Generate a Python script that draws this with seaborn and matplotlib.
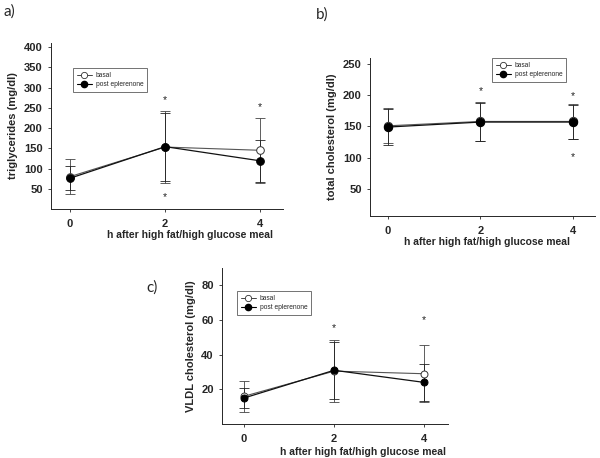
import numpy as np
import pandas as pd
import matplotlib
matplotlib.use("Agg")
import matplotlib.pyplot as plt
import seaborn as sns
from matplotlib.lines import Line2D

# time points (h after meal)
hours = [0, 2, 4]
groups = ["basal", "post eplerenone"]

# a) triglycerides
tg_basal = [80, 153, 145]
tg_basal_err = [44, 90, 80]
tg_post = [76, 154, 119]
tg_post_err = [30, 84, 52]
tg_star_x = [2, 2, 4]
tg_star_y = [269, 30, 252]

# b) total cholesterol
tc_basal = [151, 158, 158]
tc_basal_err = [28, 31, 28]
tc_post = [149, 157, 157]
tc_post_err = [29, 30, 28]
tc_star_x = [2, 4, 4]
tc_star_y = [207, 198, 101]

# c) VLDL cholesterol
vl_basal = [16, 30.5, 29]
vl_basal_err = [9, 18, 16.5]
vl_post = [15, 31, 24]
vl_post_err = [6, 16.5, 10.5]
vl_star_x = [2, 4]
vl_star_y = [55.5, 60]

xlabel = "h after high fat/high glucose meal"

sns.set_style("ticks")
plt.rcParams["font.family"] = ["Liberation Sans", "DejaVu Sans"]

fig = plt.figure(figsize=(6, 4.58), dpi=100)


def panel(rect, basal, basal_err, post, post_err, star_x, star_y,
          ylabel, ylim, xlim, yticks, legend_box, msize):
    ax = fig.add_axes(rect)
    df = pd.DataFrame({
        "h": hours * 2,
        "value": basal + post,
        "group": [groups[0]] * 3 + [groups[1]] * 3,
    })
    # error bars first, under the markers
    ax.errorbar(hours, basal, yerr=basal_err, fmt="none", ecolor="#444444",
                elinewidth=0.6, capsize=3.5, capthick=0.6, zorder=1)
    ax.errorbar(hours, post, yerr=post_err, fmt="none", ecolor="#222222",
                elinewidth=0.6, capsize=3.5, capthick=0.6, zorder=1)
    sns.lineplot(data=df[df.group == groups[0]], x="h", y="value", ax=ax,
                 color="#555555", lw=0.8, marker="o", markersize=msize,
                 markerfacecolor="white", markeredgecolor="#333333",
                 markeredgewidth=0.7, legend=False, zorder=3)
    sns.lineplot(data=df[df.group == groups[1]], x="h", y="value", ax=ax,
                 color="#111111", lw=0.9, marker="o", markersize=msize,
                 markerfacecolor="black", markeredgecolor="black",
                 legend=False, zorder=4)
    for sx, sy in zip(star_x, star_y):
        ax.text(sx, sy, "*", ha="center", va="center", fontsize=7.5,
                color="#222222")
    ax.set_xlim(xlim)
    ax.set_ylim(ylim)
    ax.set_xticks(hours)
    ax.set_yticks(yticks)
    ax.set_xlabel("")
    ax.set_ylabel(ylabel, fontsize=8, fontweight="bold", labelpad=4)
    for lab in ax.get_xticklabels() + ax.get_yticklabels():
        lab.set_fontweight("bold")
    ax.tick_params(labelsize=8, length=2.5, width=0.6)
    ax.tick_params(axis="x", pad=5)
    ax.tick_params(axis="y", pad=3.5)
    sns.despine(ax=ax)
    for s in ["left", "bottom"]:
        ax.spines[s].set_linewidth(0.7)
    handles = [
        Line2D([], [], color="#444444", lw=0.7, marker="o", markersize=4.5,
               markerfacecolor="white", markeredgecolor="#333333",
               markeredgewidth=0.6),
        Line2D([], [], color="black", lw=0.8, marker="o", markersize=4.5,
               markerfacecolor="black"),
    ]
    leg = ax.legend(handles, groups, loc="upper left",
                    bbox_to_anchor=legend_box, bbox_transform=fig.transFigure,
                    fontsize=4.8, frameon=True, fancybox=False,
                    borderpad=0.6, handlelength=2.2, handletextpad=0.6,
                    labelspacing=0.3, borderaxespad=0)
    leg.get_frame().set_edgecolor("#333333")
    leg.get_frame().set_linewidth(0.6)
    return ax


panel([51 / 600, 1 - 209 / 458, 232 / 600, 166 / 458],
      tg_basal, tg_basal_err, tg_post, tg_post_err, tg_star_x, tg_star_y,
      "triglycerides (mg/dl)", (0, 410), (-0.4, 4.48),
      [50, 100, 150, 200, 250, 300, 350, 400],
      (73 / 600, 1 - 68 / 458), 5.5)

panel([370 / 600, 1 - 216 / 458, 225 / 600, 158 / 458],
      tc_basal, tc_basal_err, tc_post, tc_post_err, tc_star_x, tc_star_y,
      "total cholesterol (mg/dl)", (6, 260), (-0.39, 4.48),
      [50, 100, 150, 200, 250],
      (492 / 600, 1 - 58 / 458), 6)

panel([222 / 600, 1 - 424 / 458, 226 / 600, 156 / 458],
      vl_basal, vl_basal_err, vl_post, vl_post_err, vl_star_x, vl_star_y,
      "VLDL cholesterol (mg/dl)", (0, 90), (-0.49, 4.53),
      [20, 40, 60, 80],
      (237 / 600, 1 - 291 / 458), 5)

# x axis titles, placed under each panel's ticks
fig.text(190 / 600, 1 - 235 / 458, xlabel, ha="center", va="center",
         fontsize=7.5, fontweight="bold")
fig.text(487 / 600, 1 - 241.5 / 458, xlabel, ha="center", va="center",
         fontsize=7.5, fontweight="bold")
fig.text(363 / 600, 1 - 452 / 458, xlabel, ha="center", va="center",
         fontsize=7.5, fontweight="bold")

# panel letters
for lbl, x, y in [("a)", 3, 12), ("b)", 316, 15), ("c)", 146, 288)]:
    fig.text(x / 600, 1 - y / 458, lbl, ha="left", va="center",
             fontsize=11, family=["Lato", "DejaVu Sans"])

fig.savefig("out.png", dpi=100)
